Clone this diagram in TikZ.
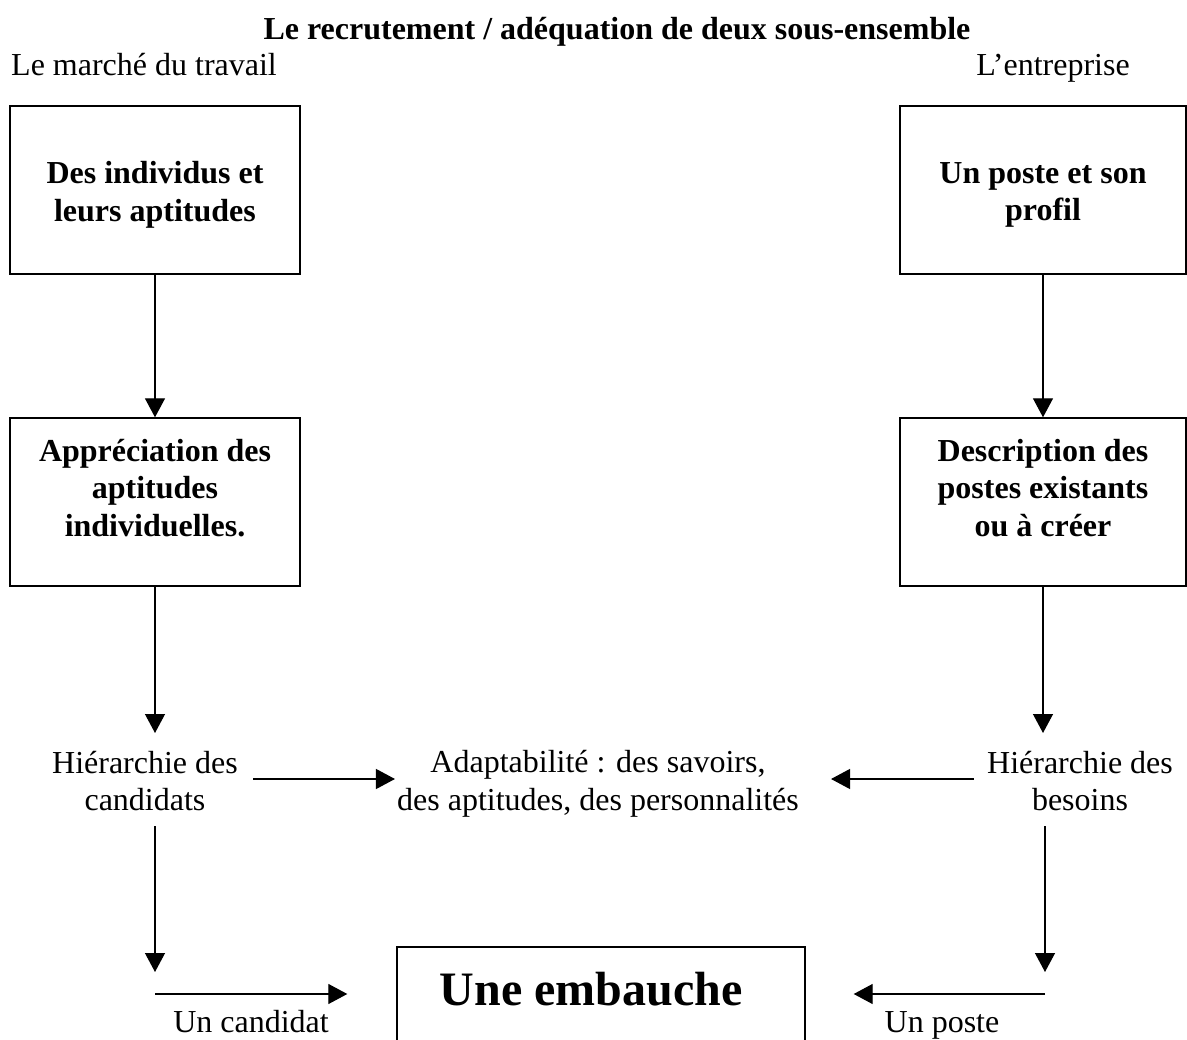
\documentclass[tikz,border=0pt]{standalone}
\usepackage{fontspec}
\setmainfont{Liberation Serif}
\usetikzlibrary{arrows.meta}
\begin{document}
\begin{tikzpicture}[x=1pt,y=-1pt,
  box/.style={draw, line width=1.4pt, minimum width=290pt, minimum height=168pt, inner sep=0pt},
  txt/.style={font=\fontsize{32}{37.5}\selectfont, align=center, inner sep=0pt},
  btxt/.style={font=\fontsize{32}{37.5}\selectfont\bfseries, align=center, inner sep=0pt},
  arr/.style={line width=1.3pt, -{Triangle[length=19pt,width=20pt]}}]
\fill[white] (0,0) rectangle (1187,1040);
\clip (0,0) rectangle (1187,1040);

% headings
\node[btxt] (title) at (617,32) {Le recrutement / adéquation de deux sous-ensemble};
\node[txt, anchor=west] (marche) at (11,65) {Le marché du travail};
\node[txt] (entr) at (1053,68) {L’entreprise};

% boxes
\node[box] (A) at (155,190) {};
\node[btxt] (Atxt) at ([yshift=-5pt]A.center) {Des individus et\\leurs aptitudes};
\node[box, minimum width=286pt] (B) at (1043,190) {};
\node[btxt] (Btxt) at ([yshift=-5pt]B.center) {Un poste et son\\profil};
\node[box] (C) at (155,502) {};
\node[btxt] (Ctxt) at ([yshift=14pt]C.center) {Appréciation des\\aptitudes\\individuelles.};
\node[box, minimum width=286pt] (D) at (1043,502) {};
\node[btxt] (Dtxt) at ([yshift=14pt]D.center) {Description des\\postes existants\\ou à créer};

% middle row
\node[txt] (hc) at (145,781) {Hiérarchie des\\candidats};
\node[txt] (adapt) at (598,784) {Adaptabilité : des savoirs,\\des aptitudes, des personnalités};
\node[txt] (hb) at (1080,781) {Hiérarchie des\\besoins};

% bottom
\node[draw, line width=1.4pt, minimum width=408pt, minimum height=132pt, inner sep=0pt] (E) at (601,1013) {};
\node[font=\fontsize{48}{56}\selectfont\bfseries, inner sep=0pt] (Etxt) at (591,989) {Une embauche};
\node[txt] (ucand) at (251,1022) {Un candidat};
\node[txt] (uposte) at (942,1025) {Un poste};

% coordinates for free ends
\coordinate (hcin) at (155,733);
\coordinate (hbin) at (1043,733);
\coordinate (l1) at (155,826);
\coordinate (l2) at (155,972);
\coordinate (l3) at (155,994);
\coordinate (r1) at (1045,826);
\coordinate (r2) at (1045,972);
\coordinate (r3) at (1045,994);

% connectors
\draw[arr] (A.south) -- (C.north);
\draw[arr] (B.south) -- (D.north);
\draw[arr] (C.south) -- (hcin);
\draw[arr] (D.south) -- (hbin);
\draw[arr] ([xshift=15pt]hc.east |- 0,779) -- ([xshift=-2pt]adapt.west |- 0,779);
\draw[arr] ([xshift=-13pt]hb.west |- 0,779) -- ([xshift=32pt]adapt.east |- 0,779);
\draw[arr] (l1) -- (l2);
\draw[arr] (r1) -- (r2);
\draw[arr, shorten >=49pt] (l3) -- (l3 -| E.west);
\draw[arr, shorten >=48pt] (r3) -- (r3 -| E.east);
\end{tikzpicture}
\end{document}
